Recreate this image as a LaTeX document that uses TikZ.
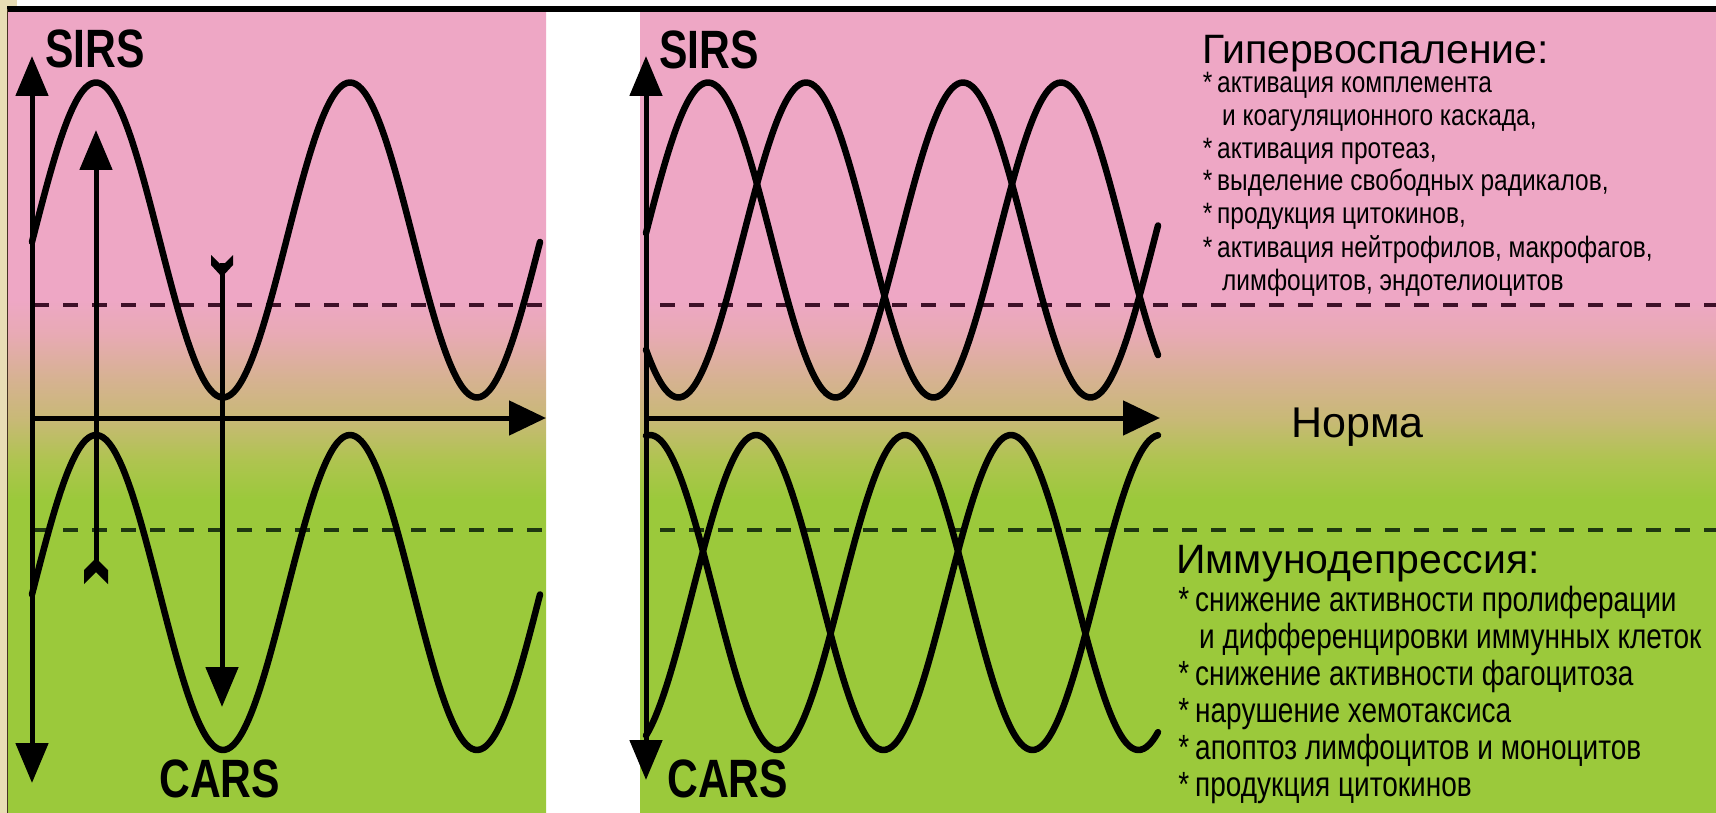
\documentclass[tikz,border=0pt]{standalone}
\usepackage{fontspec}
\setmainfont{Liberation Sans}
\newfontfamily\reg{Liberation Sans}
\newfontfamily\narA[FakeStretch=0.83]{Liberation Sans}
\newfontfamily\narB[FakeStretch=0.80]{Liberation Sans}
\newfontfamily\bnar[FakeStretch=0.79]{Liberation Sans Bold}
\usetikzlibrary{arrows.meta}
\definecolor{pinkbg}{RGB}{238,167,197}
\definecolor{pinkmid}{RGB}{232,170,180}
\definecolor{peach}{RGB}{214,178,145}
\definecolor{khaki}{RGB}{200,185,118}
\definecolor{yg}{RGB}{175,196,80}
\definecolor{greenbg}{RGB}{155,201,59}
\definecolor{beige}{RGB}{232,221,181}
\definecolor{framebrown}{RGB}{70,50,35}
\definecolor{dashpink}{RGB}{62,16,40}
\definecolor{dashgreen}{RGB}{30,55,16}
\pgfdeclareverticalshading{bgsh}{100bp}{color(0bp)=(greenbg); color(44.54bp)=(greenbg); color(47.03bp)=(yg); color(49.53bp)=(khaki); color(52.03bp)=(peach); color(54.84bp)=(pinkmid); color(57.02bp)=(pinkbg); color(100bp)=(pinkbg)}
\begin{document}
\begin{tikzpicture}[x=1pt,y=-1pt,
  curve/.style={line width=6.5pt, line join=round, line cap=round},
  axisline/.style={line width=5pt},
  headtip/.style={-{Triangle[length=40pt,width=32pt]}},
  dashline/.style={line width=4.5pt, dash pattern=on 15pt off 14pt},
  lbl/.style={inner sep=0pt, anchor=base west, font=\bnar\fontsize{54}{60}\selectfont},
  ttl/.style={inner sep=0pt, anchor=base west, font=\reg\fontsize{41}{46}\selectfont},
  itemA/.style={inner sep=0pt, anchor=base west, font=\narA\fontsize{29.5}{32}\selectfont},
  itemB/.style={inner sep=0pt, anchor=base west, font=\narB\fontsize{35}{38}\selectfont}]
\useasboundingbox (0,0) rectangle (1716,813);
% background
\fill[white] (0,0) rectangle (1716,813);
\fill[beige] (0,0) rectangle (7,813);
\fill[beige] (0,0) rectangle (17,6);
\shade[shading=bgsh] (8,11) rectangle (546,813);
\shade[shading=bgsh] (640,11) rectangle (1716,813);
\draw[line width=5.5pt] (7,9) -- (1716,9);
\draw[line width=1.5pt, framebrown] (7.5,9) -- (7.5,813);

% coordinates
\coordinate (LyT) at (32,56);
\coordinate (LyB) at (32,783);
\coordinate (LO) at (32,418);
\coordinate (LxE) at (546,418);
\coordinate (RyT) at (646,56);
\coordinate (RyB) at (646,780);
\coordinate (RO) at (646,418);
\coordinate (RxE) at (1160,418);
\coordinate (LdU1) at (34,305);
\coordinate (LdU2) at (546,305);
\coordinate (LdD1) at (34,530);
\coordinate (LdD2) at (546,530);
\coordinate (RdU1) at (660,305);
\coordinate (RdU2) at (1716,305);
\coordinate (RdD1) at (660,530);
\coordinate (RdD2) at (1716,530);
\coordinate (upS) at (96,568);
\coordinate (upT) at (96,130);
\coordinate (dnS) at (222,263);
\coordinate (dnT) at (222,707);

% dashed thresholds
\draw[dashline, dashpink] (LdU1) -- (LdU2);
\draw[dashline, dashgreen] (LdD1) -- (LdD2);
\draw[dashline, dashpink] (RdU1) -- (RdU2);
\draw[dashline, dashgreen] (RdD1) -- (RdD2);

% left panel curves
\draw[curve] plot[domain=32:540, samples=180, smooth] (\x, {240-157.5*cos((\x-96)*1.41732)});
\draw[curve] plot[domain=32:540, samples=180, smooth] (\x, {592.5-157.5*cos((\x-96)*1.41732)});

% right panel curves
\draw[curve] plot[domain=646:1158, samples=180, smooth] (\x, {240-157.5*cos((\x-708)*1.41176)});
\draw[curve] plot[domain=646:1158, samples=180, smooth] (\x, {240-157.5*cos((\x-806)*1.41176)});
\draw[curve] plot[domain=646:1158, samples=180, smooth] (\x, {592.5-157.5*cos((\x-650)*1.41176)});
\draw[curve] plot[domain=646:1158, samples=180, smooth] (\x, {592.5-157.5*cos((\x-756)*1.41176)});

% axes
\draw[axisline, {Triangle[length=40pt,width=32pt]}-{Triangle[length=40pt,width=32pt]}] (LyB) -- (LyT);
\draw[axisline, -{Triangle[length=37pt,width=34pt]}] (LO) -- (LxE);
\draw[axisline, {Triangle[length=40pt,width=32pt]}-{Triangle[length=40pt,width=32pt]}] (RyB) -- (RyT);
\draw[axisline, -{Triangle[length=37pt,width=34pt]}] (RO) -- (RxE);

% feathered arrows
\draw[axisline, headtip] (upS) -- (upT);
\fill (96,558) -- (108,570) -- (108,584) -- (96,572) -- (84,584) -- (84,570) -- cycle;
\draw[axisline, headtip] (dnS) -- (dnT);
\fill (222,277) -- (233,265) -- (233,255) -- (222,266) -- (211,255) -- (211,265) -- cycle;

% labels
\node[lbl] (sirsL) at (45,68) {SIRS};
\node[lbl] (sirsR) at (659,69) {SIRS};
\node[lbl] (carsL) at (159,797) {CARS};
\node[lbl] (carsR) at (667,797) {CARS};
\node[ttl, font=\reg\fontsize{43}{48}\selectfont] (norma) at (1291,437) {Норма};

\node[ttl] (hyp) at (1202,64) {Гипервоспаление:};
\node[itemA] (h1) at (1217,93) {\llap{*\,}активация комплемента};
\node[itemA] (h2) at (1222,126) {и коагуляционного каскада,};
\node[itemA] (h3) at (1217,159) {\llap{*\,}активация протеаз,};
\node[itemA] (h4) at (1217,191) {\llap{*\,}выделение свободных радикалов,};
\node[itemA] (h5) at (1217,224) {\llap{*\,}продукция цитокинов,};
\node[itemA] (h6) at (1217,257) {\llap{*\,}активация нейтрофилов, макрофагов,};
\node[itemA] (h7) at (1222,290) {лимфоцитов, эндотелиоцитов};

\node[ttl] (imm) at (1176,573) {Иммунодепрессия:};
\node[itemB] (i1) at (1195,611) {\llap{*\,}снижение активности пролиферации};
\node[itemB] (i2) at (1199,648) {и дифференцировки иммунных клеток};
\node[itemB] (i3) at (1195,685) {\llap{*\,}снижение активности фагоцитоза};
\node[itemB] (i4) at (1195,722) {\llap{*\,}нарушение хемотаксиса};
\node[itemB] (i5) at (1195,759) {\llap{*\,}апоптоз лимфоцитов и моноцитов};
\node[itemB] (i6) at (1195,796) {\llap{*\,}продукция цитокинов};
\end{tikzpicture}
\end{document}
